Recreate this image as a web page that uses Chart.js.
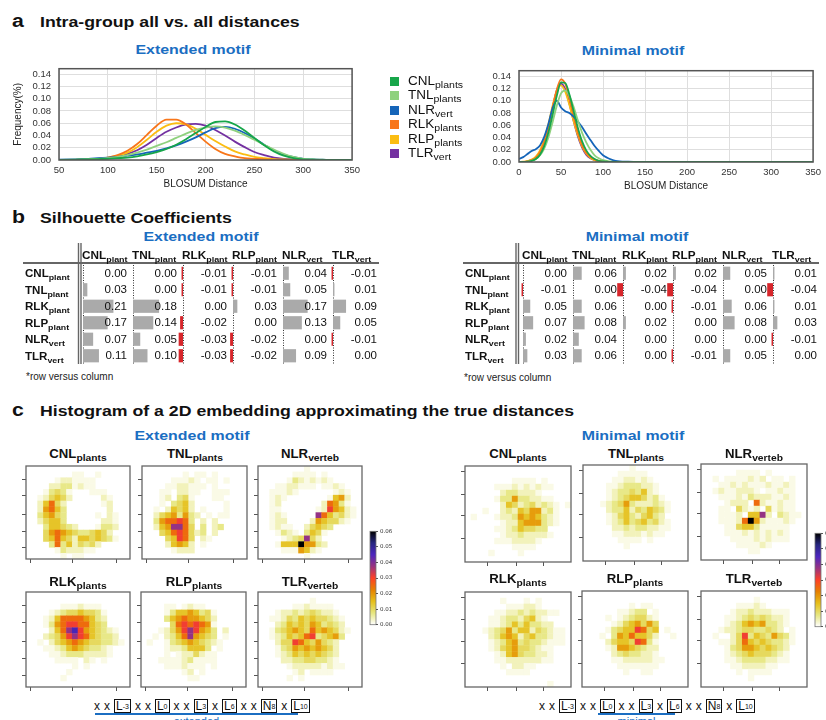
<!DOCTYPE html>
<html>
<head>
<meta charset="utf-8">
<title>Intra-group distances, silhouette coefficients and 2D embeddings</title>
<script src="https://cdn.jsdelivr.net/npm/chart.js@4.4.1/dist/chart.umd.min.js"></script>
<style>
  body { margin: 0; background: #fff; }
  #page { position: relative; width: 826px; height: 720px; overflow: hidden; font-family: "Liberation Sans", Arial, sans-serif; color: #111; }
  #page canvas { position: absolute; }
  .t { position: absolute; white-space: nowrap; line-height: 1; transform-origin: 0 50%; }
  .letter { font-weight: bold; font-size: 18px; transform: scaleX(1.18); }
  .head { font-weight: bold; font-size: 15px; transform: scaleX(1.18); }
  .motif { color: #1b6ec2; font-weight: bold; font-size: 13.5px; transform: translateX(-50%) scaleX(1.18); transform-origin: 50% 50%; }
  .note { font-size: 10px; color: #222; }
  .htitle { font-weight: bold; font-size: 12px; transform: translateX(-50%) scaleX(1.1); transform-origin: 50% 50%; }
  .htitle sub, .leg sub { font-size: 0.78em; vertical-align: -0.3em; }
  .leg { font-size: 12.5px; transform: scaleX(1.08); }
  .sq { position: absolute; width: 9px; height: 9px; }
  .mrow { position: absolute; display: flex; align-items: center; gap: 4px; font-size: 12px; line-height: 1; }
  .mrow .bx { border: 1.5px solid #111; padding: 0 1px; height: 12px; display: flex; align-items: center; }
  .mrow sub { font-size: 7px; vertical-align: -0.2em; }
  .uline { position: absolute; height: 2px; background: #1b6ec2; }
  .ulab { color: #1b6ec2; font-size: 11px; transform: translateX(-50%); transform-origin: 50% 50%; }
</style>
</head>
<body>
<div id="page"></div>
<script>
// ---------- panel a: distance distributions ----------
const groupNames  = ['CNL', 'TNL', 'NLR', 'RLK', 'RLP', 'TLR'];
const groupSubs   = ['plants', 'plants', 'vert', 'plants', 'plants', 'vert'];
const groupColors = ['#17a64a', '#8fd17e', '#1565b9', '#f8761a', '#fbbd12', '#7431a1'];

const extX = [50, 60, 70, 80, 90, 100, 110, 120, 130, 140, 150, 160, 170, 180, 190, 200,
              210, 220, 230, 240, 250, 260, 270, 280, 290, 300, 310, 320, 330, 340, 350];
const extCNL = [0, 0, .0005, .001, .0015, .002, .003, .004, .006, .009, .013, .018, .025, .034, .044, .054,
                .062, .063, .058, .048, .036, .024, .014, .007, .003, .001, .0005, 0, 0, 0, 0];
const extTNL = [0, .0005, .001, .0015, .002, .003, .005, .008, .012, .017, .023, .029, .036, .043, .049, .053,
                .055, .053, .048, .041, .033, .025, .017, .010, .005, .002, .001, .0005, 0, 0, 0];
const extNLR = [.0005, .001, .0015, .002, .003, .004, .005, .007, .009, .012, .015, .019, .024, .030, .037, .045,
                .052, .054, .051, .044, .035, .025, .016, .009, .005, .002, .001, .0005, 0, 0, 0];
const extRLK = [0, 0, .0005, .001, .002, .004, .008, .015, .026, .041, .056, .066, .066, .058, .044, .030,
                .018, .010, .006, .003, .002, .001, .0005, 0, 0, 0, 0, 0, 0, 0, 0];
const extRLP = [0, 0, .0005, .001, .002, .004, .007, .012, .021, .033, .046, .056, .060, .058, .051, .041,
                .031, .022, .014, .009, .005, .003, .0015, .001, .0005, 0, 0, 0, 0, 0, 0];
const extTLR = [0, 0, .0005, .001, .002, .003, .006, .010, .016, .025, .036, .046, .053, .058, .059, .056,
                .049, .040, .030, .021, .013, .008, .004, .002, .001, .0005, 0, 0, 0, 0, 0];

const minX = [0, 5, 10, 15, 20, 25, 30, 35, 40, 45, 50, 55, 60, 65, 70, 75, 80, 85, 90, 95, 100,
              105, 110, 115, 120, 130, 150, 200, 250, 300, 350];
const minCNL = [0, 0, .0005, .002, .005, .012, .026, .048, .077, .108, .130, .129, .110, .083, .056, .034, .019, .010, .005, .002, .001,
                .0005, 0, 0, 0, 0, 0, 0, 0, 0, 0];
const minTNL = [0, 0, .0005, .002, .005, .011, .022, .040, .065, .092, .112, .117, .108, .090, .068, .048, .032, .020, .011, .006, .003,
                .0015, .0005, 0, 0, 0, 0, 0, 0, 0, 0];
const minNLR = [.005, .008, .013, .018, .021, .027, .041, .062, .088, .100, .089, .083, .080, .074, .066, .057, .046, .036, .026, .018, .011,
                .007, .004, .002, .001, .0005, 0, 0, 0, 0, 0];
const minRLK = [0, 0, .001, .003, .007, .016, .032, .057, .088, .118, .135, .128, .104, .075, .048, .028, .015, .008, .004, .002, .001,
                .0005, 0, 0, 0, 0, 0, 0, 0, 0, 0];
const minRLP = [0, .0005, .0015, .004, .009, .019, .037, .062, .092, .116, .125, .115, .093, .067, .044, .026, .014, .007, .003, .0015, .0005,
                0, 0, 0, 0, 0, 0, 0, 0, 0, 0];
const minTLR = [0, 0, .001, .003, .007, .016, .033, .058, .089, .117, .128, .119, .095, .067, .042, .024, .012, .006, .003, .001, .0005,
                0, 0, 0, 0, 0, 0, 0, 0, 0, 0];

// ---------- panel b: silhouette coefficients (row vs column) ----------
const silCols = ['CNL', 'TNL', 'RLK', 'RLP', 'NLR', 'TLR'];
const silSubs = ['plant', 'plant', 'plant', 'plant', 'vert', 'vert'];
const silExtended = [
  [0.00, 0.00, -0.01, -0.01, 0.04, -0.01],
  [0.03, 0.00, -0.01, -0.01, 0.05, 0.01],
  [0.21, 0.18, 0.00, 0.03, 0.17, 0.09],
  [0.17, 0.14, -0.02, 0.00, 0.13, 0.05],
  [0.07, 0.05, -0.03, -0.02, 0.00, -0.01],
  [0.11, 0.10, -0.03, -0.02, 0.09, 0.00]
];
const silMinimal = [
  [0.00, 0.06, 0.02, 0.02, 0.05, 0.01],
  [-0.01, 0.00, -0.04, -0.04, 0.00, -0.04],
  [0.05, 0.06, 0.00, -0.01, 0.06, 0.01],
  [0.07, 0.08, 0.02, 0.00, 0.08, 0.03],
  [0.02, 0.04, 0.00, 0.00, 0.00, -0.01],
  [0.03, 0.06, 0.00, -0.01, 0.05, 0.00]
];

// ---------- panel c: 2D histograms, one char per cell (18 cols x 16 rows) ----------
const heatLevel = { '.': 0, '1': .0015, '2': .004, '3': .007, '4': .010, '5': .014, '6': .019,
                    '7': .025, '8': .031, '9': .038, 'a': .046, 'b': .053, 'c': .060 };
const HEAT_MAX = 0.06;
const cbarTicks = [0, 0.01, 0.02, 0.03, 0.04, 0.05, 0.06];

const heatExtCNL = [
  '..................', '........11..1.....', '.....1221111......', '....22331211......',
  '...13431...111....', '..124542.....21...', '..25742......12...', '..26753.......2...',
  '..35643.....1.21..', '..24553......221..', '...355432...1332..', '...467654334542...',
  '...4575425545431..', '....373524342.....', '.....1322211......', '......1.11........'];
const heatExtTNL = [
  '..................', '.......1.11.1.....', '.....11121.11.1...', '....1122111.1.....',
  '...11.2211..111...', '...12.341...11....', '...1.3452.....1...', '..1.25452.1...1...',
  '..24563632.1.11...', '..3677873.2.2.....', '..2569974.3.23....', '...45787423.2.....',
  '....45874.21......', '....25652.1.......', '.....1222.........', '..................'];
const heatExtNLR = [
  '........1.........', '......1111.1......', '.....13212121.....', '...1122111.1121...',
  '..11121......121..', '..121.......1562..', '..12.......27631..', '..11......1286521.',
  '..121.....9753421.', '..122....2654421..', '..1211..24543.....', '...1321.3541......',
  '....1234942.......', '...1555c6632......', '....1116521.......', '........1.........'];
const heatExtRLK = [
  '..................', '..................', '......1112111.....', '....1234454431....',
  '...12577776532....', '...13678877543....', '....2579a8654321..', '...2346898754332..',
  '..1.2456765443321.', '...112356543321...', '....11233322221...', '.....1111.21.1....',
  '........1.1.......', '.......1..........', '......1...........', '..................'];
const heatExtRLP = [
  '..................', '..................', '....11.1211.......', '....135565341.....',
  '....356766542.....', '.....47878761.....', '...1246898653.2...', '..1.235796543.1...',
  '.1..1345654321....', '....12235553.1....', '....1.1224211.....', '...1111231111.....',
  '....1112111.1.....', '.......12.1.......', '........11........', '..................'];
const heatExtTLR = [
  '..................', '.........1........', '......1121111.....', '...12232343221....',
  '..1124354544321...', '...235454653432...', '..13456547565421..', '..1235457834563...',
  '...24487546432....', '...13465656542....', '...12354545432....', '....2233443321....',
  '.....1222221211...', '......12.1111.....', '.....1.1..........', '..................'];
const heatMinCNL = [
  '..................', '..................', '........1111.1....', '.....1112121211...',
  '......2332221.....', '.....1336332211...', '......2542342321.1', '...1..2325466231..',
  '.1...12236565321..', '......1225666321..', '.....112354433....', '......122322221...',
  '.....11122221.....', '........1111......', '....1....1........', '..................'];
const heatMinTNL = [
  '........1.........', '......11111.......', '.....1122121......', '....112333221.....',
  '....123343521.....', '....1234554231....', '...123463222321...', '....23352435431...',
  '....1245324532....', '....12353453421...', '.....2232332211...', '.....112221211....',
  '......1111.1......', '.......1..........', '..................', '..................'];
const heatMinNLR = [
  '..................', '......1111.1......', '..1.1111212.11.1..', '...1121211121121..',
  '..12112221.11211..', '...1112132221121..', '....1222.7211211..', '...11.4212.41211..',
  '...1112.5592.3211.', '...11127c6211121..', '....11455311111...', '....11121212121...',
  '.....1111212111...', '......111121......', '........11........', '..................'];
const heatMinRLK = [
  '..................', '......1...1.1.....', '.......111221.....', '.....11223232211..',
  '....1123324521....', '....11235353322...', '...12346355243211.', '....2356524533211.',
  '....1235634332111.', '....12456443211...', '.....1256433221...', '.....1122222211...',
  '......1.2211......', '.......1111.......', '..................', '..............1...'];
const heatMinRLP = [
  '..................', '..................', '........1.11......', '......11233.1.....',
  '....1.1234421.....', '.....12456464.....', '....134558745.1...', '...1.36575542..1..',
  '....245548731.....', '....126654322.....', '.....23433221.....', '.....112222211....',
  '......1111111.....', '.......1..11......', '..................', '..................'];
const heatMinTLR = [
  '..................', '.........1........', '......11121.......', '.....1223222111...',
  '....11234343221...', '....12356563321...', '...12234433432.1..', '..1..24835436431..',
  '...1124754543321..', '....13466545432...', '....12345444321...', '....11233332211...',
  '.....11222211.....', '......1.1111......', '........1.........', '..................'];

const heatNames = ['CNL', 'TNL', 'NLR', 'RLK', 'RLP', 'TLR'];
const heatSubs  = ['plants', 'plants', 'verteb', 'plants', 'plants', 'verteb'];
const heatExtTickX = [0.2, 7.5, 15.1];
const heatExtTickY = [1.74, 4.66, 7.76, 10.7, 13.6];
const heatMinTickX = [3.4, 8.3, 12.9];
const heatMinTickY = [0.45, 4.2, 7.8, 11.5];

const motifTokens = [['x'], ['x'], ['L', '-3'], ['x'], ['x'], ['L', '0'], ['x'], ['x'], ['L', '3'],
                     ['x'], ['L', '6'], ['x'], ['x'], ['N', '8'], ['x'], ['L', '10']];

// ---------- helpers ----------
Chart.defaults.font.family = '"Liberation Sans", Arial, sans-serif';
Chart.defaults.color = '#222';
const page = document.getElementById('page');
const FONT = '"Liberation Sans", Arial, sans-serif';

function addCanvas(left, top, w, h) {
  const c = document.createElement('canvas');
  c.width = w; c.height = h;
  c.style.left = left + 'px'; c.style.top = top + 'px';
  c.style.width = w + 'px'; c.style.height = h + 'px';
  page.appendChild(c);
  return c;
}
function addText(cls, html, left, top) {
  const d = document.createElement('div');
  d.className = 't ' + cls;
  d.innerHTML = html;
  d.style.left = left + 'px'; d.style.top = top + 'px';
  page.appendChild(d);
  return d;
}

const cmapStops = [[0, [255, 255, 255]], [0.125, [230, 230, 128]], [0.25, [230, 191, 26]], [0.375, [230, 128, 0]],
                   [0.5, [255, 64, 38]], [0.625, [153, 51, 128]], [0.75, [77, 38, 191]], [0.875, [38, 38, 128]], [1, [0, 0, 0]]];
function cmap(t) {
  t = Math.max(0, Math.min(1, t));
  for (let i = 1; i < cmapStops.length; i++) {
    const [t1, c1] = cmapStops[i];
    const [t0, c0] = cmapStops[i - 1];
    if (t <= t1) {
      const f = (t - t0) / (t1 - t0);
      return 'rgb(' + c0.map((v, k) => Math.round(v + (c1[k] - v) * f)).join(',') + ')';
    }
  }
  return 'rgb(0,0,0)';
}

const frame = {
  id: 'frame',
  afterDraw(chart, args, opts) {
    const { ctx, chartArea: a } = chart;
    ctx.save();
    ctx.strokeStyle = opts.color || '#555';
    ctx.lineWidth = opts.width || 1.5;
    ctx.strokeRect(a.left, a.top, a.right - a.left, a.bottom - a.top);
    ctx.restore();
  }
};

// ---------- headings ----------
addText('letter', 'a', 12, 12);
addText('head', 'Intra-group all vs. all distances', 40, 14);
addText('letter', 'b', 12, 208);
addText('head', 'Silhouette Coefficients', 40, 210);
addText('letter', 'c', 12, 401);
addText('head', 'Histogram of a 2D embedding approximating the true distances', 40, 403);

addText('motif', 'Extended motif', 193, 43);
addText('motif', 'Minimal motif', 633, 44);
addText('motif', 'Extended motif', 201, 230);
addText('motif', 'Minimal motif', 637, 230);
addText('motif', 'Extended motif', 192, 429);
addText('motif', 'Minimal motif', 633, 429);

// ---------- panel a ----------
function lineChart(canvas, xs, series, xMin, xMax, padRight, yTitle) {
  return new Chart(canvas, {
    type: 'line',
    data: {
      datasets: series.map((vals, i) => ({
        label: groupNames[i],
        data: xs.map((x, k) => ({ x: x, y: vals[k] })),
        borderColor: groupColors[i],
        borderWidth: 1.8,
        pointRadius: 0,
        cubicInterpolationMode: 'monotone',
        fill: false
      }))
    },
    options: {
      responsive: false, animation: false, events: [],
      layout: { padding: { top: 4, right: padRight, left: 0, bottom: 0 }, autoPadding: false },
      plugins: { legend: { display: false }, tooltip: { enabled: false }, frame: { color: '#555', width: 1.5 } },
      scales: {
        x: {
          type: 'linear', min: xMin, max: xMax,
          ticks: { stepSize: 50, autoSkip: false, font: { size: 9.5 }, color: '#333', padding: 5 },
          grid: { color: '#dedede', drawTicks: false }, border: { display: false },
          title: { display: true, text: 'BLOSUM Distance', font: { size: 10 }, color: '#222', padding: 0 },
          afterFit: s => { s.height = 30; }
        },
        y: {
          min: 0, max: 0.149,
          ticks: { stepSize: 0.02, includeBounds: false, autoSkip: false, callback: v => v.toFixed(2), font: { size: 9.5 }, color: '#333', padding: 8 },
          grid: { color: '#dedede', drawTicks: false }, border: { display: false },
          title: { display: yTitle, text: 'Frequency(%)', font: { size: 10 }, color: '#222', padding: { top: 12, bottom: 0 } },
          afterFit: s => { s.width = 59; }
        }
      }
    },
    plugins: [frame]
  });
}
lineChart(addCanvas(0, 55, 365, 135), extX, [extCNL, extTNL, extNLR, extRLK, extRLP, extTLR], 50, 350, 11, true);
lineChart(addCanvas(460, 57, 366, 135), minX, [minCNL, minTNL, minNLR, minRLK, minRLP, minTLR], 0, 350, 7, false);

// legend
groupNames.forEach((g, i) => {
  const cy = 81 + i * 14.5;
  const sq = document.createElement('div');
  sq.className = 'sq';
  sq.style.left = '390px'; sq.style.top = (cy - 4.5) + 'px';
  sq.style.background = groupColors[i];
  page.appendChild(sq);
  addText('leg', g + '<sub>' + groupSubs[i] + '</sub>', 408, cy - 6.5);
});

// ---------- panel b ----------
function drawSub(ctx, x, y, main, sub, size, subSize, bold, stretch) {
  ctx.save();
  ctx.translate(x, y);
  ctx.scale(stretch, 1);
  const w = bold ? 'bold ' : '';
  ctx.font = w + size + 'px ' + FONT;
  ctx.textBaseline = 'alphabetic';
  ctx.textAlign = 'left';
  const w1 = ctx.measureText(main).width;
  ctx.fillText(main, 0, size * 0.36);
  ctx.font = w + subSize + 'px ' + FONT;
  ctx.fillText(sub, w1, size * 0.36 + subSize * 0.4);
  ctx.restore();
}

const COLW = 50, BARK = 145;
const silPlugin = {
  id: 'silText',
  beforeDatasetsDraw(chart, args, opts) {
    const { ctx, scales: { x }, chartArea: a } = chart;
    const x0 = x.getPixelForValue(0);
    ctx.save();
    ctx.strokeStyle = '#333'; ctx.lineWidth = 1; ctx.setLineDash([1, 1.5]);
    silCols.forEach((_, c) => {
      const px = Math.round(x.getPixelForValue(c * COLW)) + 0.5;
      ctx.beginPath(); ctx.moveTo(px, a.top); ctx.lineTo(px, a.bottom); ctx.stroke();
    });
    ctx.setLineDash([]);
    ctx.strokeStyle = '#666'; ctx.lineWidth = 2;
    ctx.beginPath(); ctx.moveTo(x0 - 60, a.top - 2); ctx.lineTo(x0 + 296, a.top - 2); ctx.stroke();
    ctx.lineWidth = 1.4;
    opts.sep.forEach(dx => {
      ctx.beginPath(); ctx.moveTo(x0 + dx, a.top - 22); ctx.lineTo(x0 + dx, a.bottom); ctx.stroke();
    });
    ctx.restore();
  },
  afterDatasetsDraw(chart, args, opts) {
    const { ctx, scales: { x, y }, chartArea: a } = chart;
    const x0 = x.getPixelForValue(0);
    ctx.save();
    ctx.fillStyle = '#111';
    silCols.forEach((g, c) => {
      drawSub(ctx, x.getPixelForValue(c * COLW) - 1, a.top - 10, g, silSubs[c], 10.5, 8, true, 1.12);
    });
    silCols.forEach((g, r) => {
      const py = y.getPixelForValue(r);
      drawSub(ctx, x0 - 58, py, g, silSubs[r], 10.5, 8, true, 1.1);
      opts.rows[r].forEach((v, c) => {
        ctx.save();
        ctx.translate(x.getPixelForValue(c * COLW) + 44, py);
        ctx.scale(1.1, 1);
        ctx.font = '10.5px ' + FONT;
        ctx.textAlign = 'right';
        ctx.textBaseline = 'middle';
        ctx.fillText(v.toFixed(2), 0, 0.5);
        ctx.restore();
      });
    });
    ctx.restore();
  }
};

function silTable(canvas, rows, sep) {
  return new Chart(canvas, {
    type: 'bar',
    data: {
      labels: silCols,
      datasets: silCols.map((name, c) => ({
        label: name,
        data: rows.map(r => [c * COLW, c * COLW + r[c] * BARK]),
        backgroundColor: rows.map(r => r[c] < 0 ? '#d7262b' : '#aaaaaa'),
        borderWidth: 0, grouped: false, barPercentage: 0.8, categoryPercentage: 1
      }))
    },
    options: {
      indexAxis: 'y', responsive: false, animation: false, events: [],
      layout: { padding: { left: 51, right: 3, top: 25, bottom: 2 }, autoPadding: false },
      plugins: { legend: { display: false }, tooltip: { enabled: false }, silText: { rows: rows, sep: sep } },
      scales: { x: { type: 'linear', min: -12, max: 300, display: false }, y: { display: false } }
    },
    plugins: [silPlugin]
  });
}
silTable(addCanvas(20, 240, 366, 126), silExtended, [-4.5, -2]);
silTable(addCanvas(460, 240, 366, 126), silMinimal, [-7, -4.5]);
addText('note', '*row versus column', 26, 372);
addText('note', '*row versus column', 464, 373);

// ---------- panel c ----------
function heatPoints(rows) {
  const pts = [];
  rows.forEach((row, r) => {
    for (let c = 0; c < 18 && c < row.length; c++) {
      const v = heatLevel[row[c]] || 0;
      if (v > 0) pts.push({ x: c, y: r, v: v });
    }
  });
  return pts;
}

function heatmap(box, rows, tickX, tickY) {
  const [left, top, w, h] = box;
  const cell = Math.max(w / 18, h / 16);
  new Chart(addCanvas(left - 8, top - 2, w + 10, h + 10), {
    type: 'scatter',
    data: {
      datasets: [{
        data: heatPoints(rows),
        pointStyle: 'rect',
        pointRadius: (cell + 0.4) / Math.SQRT2,
        pointBorderWidth: 0,
        pointBackgroundColor: ctx => cmap(ctx.raw.v / HEAT_MAX)
      }]
    },
    options: {
      responsive: false, animation: false, events: [],
      layout: { padding: { top: 2, right: 2, left: 0, bottom: 0 }, autoPadding: false },
      plugins: { legend: { display: false }, tooltip: { enabled: false }, frame: { color: '#666', width: 1.3 } },
      scales: {
        x: {
          type: 'linear', min: -0.5, max: 17.5,
          ticks: { display: false }, border: { display: false },
          grid: { drawOnChartArea: false, drawTicks: true, tickLength: 4, color: '#555' },
          afterBuildTicks: s => { s.ticks = tickX.map(v => ({ value: v })); },
          afterFit: s => { s.height = 8; }
        },
        y: {
          type: 'linear', min: -0.5, max: 15.5, reverse: true,
          ticks: { display: false }, border: { display: false },
          grid: { drawOnChartArea: false, drawTicks: true, tickLength: 4, color: '#555' },
          afterBuildTicks: s => { s.ticks = tickY.map(v => ({ value: v })); },
          afterFit: s => { s.width = 8; }
        }
      }
    },
    plugins: [frame]
  });
}

const extBoxes = [[26, 466, 104, 93], [142, 466, 105, 93], [258, 466, 104, 93],
                  [26, 592, 104, 95], [141, 592, 105, 95], [258, 592, 104, 95]];
const minBoxes = [[465, 466, 106, 96], [583, 465, 105, 96], [701, 464, 106, 96],
                  [465, 592, 106, 95], [582, 591, 106, 96], [701, 591, 106, 96]];
const extHeats = [heatExtCNL, heatExtTNL, heatExtNLR, heatExtRLK, heatExtRLP, heatExtTLR];
const minHeats = [heatMinCNL, heatMinTNL, heatMinNLR, heatMinRLK, heatMinRLP, heatMinTLR];

extHeats.forEach((rows, i) => heatmap(extBoxes[i], rows, heatExtTickX, heatExtTickY));
minHeats.forEach((rows, i) => heatmap(minBoxes[i], rows, heatMinTickX, heatMinTickY));

[extBoxes, minBoxes].forEach((boxes, k) => {
  boxes.forEach((b, i) => {
    const cy = i < 3 ? 455 : (k === 0 ? 583 : 580);
    addText('htitle', heatNames[i] + '<sub>' + heatSubs[i] + '</sub>', b[0] + b[2] / 2, cy - 7);
  });
});

// colour bars
const cbarFill = {
  id: 'cbarFill',
  beforeDraw(chart) {
    const { ctx, chartArea: a } = chart;
    const g = ctx.createLinearGradient(0, a.bottom, 0, a.top);
    cmapStops.forEach(([t]) => g.addColorStop(t, cmap(t)));
    ctx.save();
    ctx.fillStyle = g;
    ctx.fillRect(a.left, a.top, a.right - a.left, a.bottom - a.top);
    ctx.strokeStyle = '#777'; ctx.lineWidth = 0.8;
    ctx.strokeRect(a.left, a.top, a.right - a.left, a.bottom - a.top);
    ctx.restore();
  }
};
function colorbar(left, top) {
  new Chart(addCanvas(left, top, 40, 104), {
    type: 'scatter',
    data: { datasets: [] },
    options: {
      responsive: false, animation: false, events: [],
      layout: { padding: { left: 5, top: 5, bottom: 4, right: 0 }, autoPadding: false },
      plugins: { legend: { display: false }, tooltip: { enabled: false } },
      scales: {
        x: { display: false, min: 0, max: 1 },
        y: {
          position: 'right', min: 0, max: HEAT_MAX,
          afterBuildTicks: s => { s.ticks = cbarTicks.map(v => ({ value: v })); },
          ticks: { autoSkip: false, callback: v => v.toFixed(2), font: { size: 5.5, family: '"DejaVu Sans"' }, color: '#333', padding: 2 },
          grid: { drawOnChartArea: false, tickLength: 2, color: '#555' }, border: { display: false },
          afterFit: s => { s.width = 29; }
        }
      }
    },
    plugins: [cbarFill]
  });
}
colorbar(365, 526);
colorbar(810, 528);

// motif diagrams
function motifRow(left, top, ulLeft, ulWidth, label) {
  const row = document.createElement('div');
  row.className = 'mrow';
  row.style.left = left + 'px'; row.style.top = top + 'px';
  row.innerHTML = motifTokens.map(t => t.length === 1
    ? '<span>' + t[0] + '</span>'
    : '<span class="bx">' + t[0] + '<sub>' + t[1] + '</sub></span>').join('');
  page.appendChild(row);
  const ul = document.createElement('div');
  ul.className = 'uline';
  ul.style.left = ulLeft + 'px'; ul.style.top = '713px'; ul.style.width = ulWidth + 'px';
  page.appendChild(ul);
  addText('ulab', label, ulLeft + ulWidth / 2, 716);
}
motifRow(94, 699, 95, 203, 'extended');
motifRow(539, 699, 598, 77, 'minimal');
</script>
</body>
</html>
